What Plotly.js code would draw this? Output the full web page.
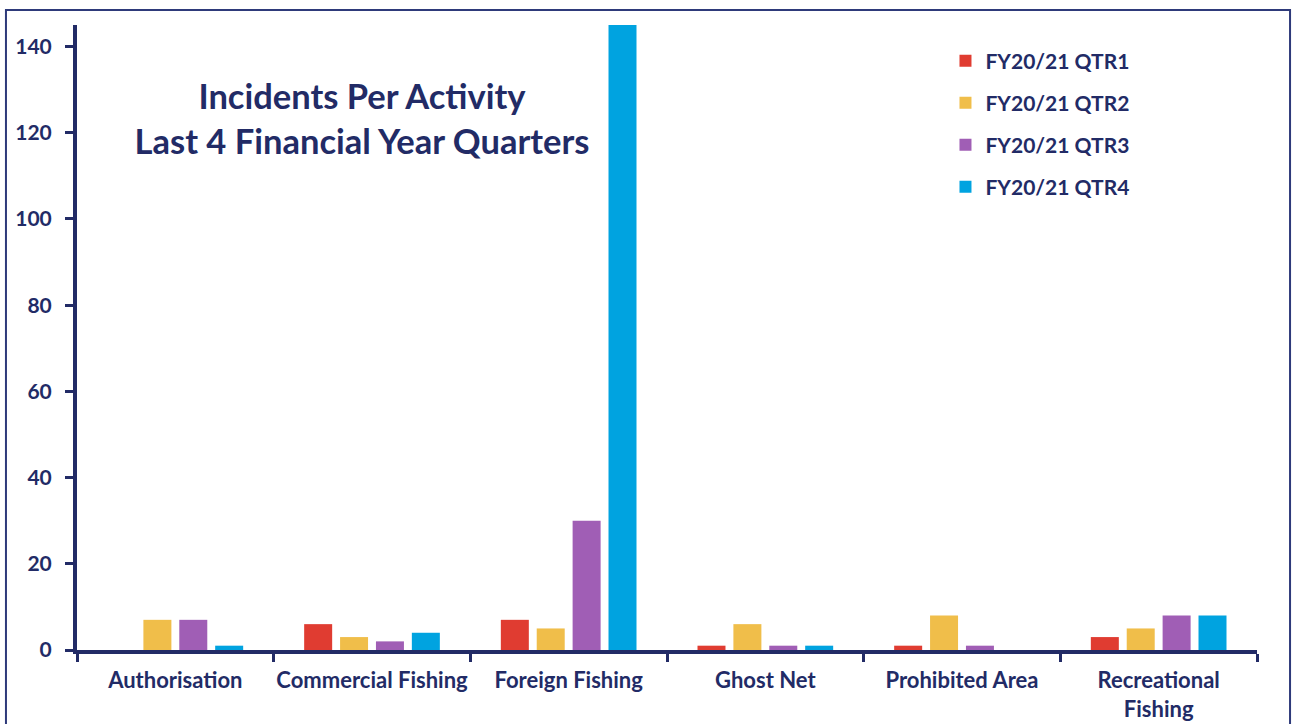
<!DOCTYPE html>
<html>
<head>
<meta charset="utf-8">
<script src="https://cdn.plot.ly/plotly-3.0.1.min.js"></script>
<style>
  html, body { margin: 0; padding: 0; background: #ffffff; }
  #chart { width: 1292px; height: 724px; }
</style>
</head>
<body>
<div id="chart"></div>
<script>
const categories = ["Authorisation", "Commercial Fishing", "Foreign Fishing", "Ghost Net", "Prohibited Area", "Recreational<br>Fishing"];
const seriesNames = ["FY20/21 QTR1", "FY20/21 QTR2", "FY20/21 QTR3", "FY20/21 QTR4"];
const qtr1 = [0, 6, 7, 1, 1, 3];
const qtr2 = [7, 3, 5, 6, 8, 5];
const qtr3 = [7, 2, 30, 1, 1, 8];
const qtr4 = [1, 4, 145, 1, 0, 8];
const seriesColors = ["#E03C31", "#F0BE4A", "#A05EB5", "#00A3E0"];
const yTicks = [0, 20, 40, 60, 80, 100, 120, 140];

const navy = "#222B66";
const fontFamily = "Lato, 'Open Sans', sans-serif";

const values = [qtr1, qtr2, qtr3, qtr4];
const traces = values.map((v, i) => ({
  type: "bar",
  name: seriesNames[i],
  x: categories,
  y: v,
  marker: { color: seriesColors[i], line: { width: 0 } },
  legendgroup: "g" + i,
  hoverinfo: "x+y+name"
}));

const layout = {
  width: 1292,
  height: 724,
  margin: { l: 77, r: 35, t: 25, b: 74 },
  paper_bgcolor: "#ffffff",
  plot_bgcolor: "#ffffff",
  font: { family: fontFamily, color: navy, size: 20 },
  barmode: "group",
  bargap: 0.27,
  bargroupgap: 0.22,
  title: {
    text: "<b>Incidents Per Activity<br>Last 4 Financial Year Quarters</b>",
    font: { family: fontFamily, size: 34.5, color: navy },
    xref: "paper", x: 0.2415, xanchor: "center",
    yref: "paper", y: 0.866, yanchor: "middle"
  },
  xaxis: {
    type: "category",
    showline: true, linecolor: navy, linewidth: 4,
    ticks: "outside", tickson: "boundaries", ticklen: 8, tickwidth: 3, tickcolor: navy,
    tickangle: 0,
    tickfont: { family: fontFamily, size: 22, color: navy, weight: "bold" },
    ticklabelstandoff: 8,
    showgrid: false, zeroline: false,
    fixedrange: true
  },
  yaxis: {
    range: [0, 145],
    tickvals: yTicks,
    ticktext: yTicks.map(String),
    showline: true, linecolor: navy, linewidth: 4,
    ticks: "outside", ticklen: 8, tickwidth: 3, tickcolor: navy,
    tickfont: { family: fontFamily, size: 21, color: navy, weight: "bold" },
    ticklabelstandoff: 9,
    showgrid: false, zeroline: false,
    fixedrange: true
  },
  legend: {
    x: 0.736, xanchor: "left",
    y: 0.975, yanchor: "top",
    font: { family: fontFamily, size: 21, color: navy, weight: "bold" },
    tracegroupgap: 11.7,
    bgcolor: "rgba(0,0,0,0)",
    itemclick: false, itemdoubleclick: false
  },
  shapes: [{
    type: "rect", xref: "paper", yref: "paper",
    x0: -0.0602, x1: 1.028, y0: -0.3, y1: 1.024,
    line: { color: "#2E3A7A", width: 2 },
    fillcolor: "rgba(0,0,0,0)",
    layer: "below"
  }],
  showlegend: true
};

Plotly.newPlot("chart", traces, layout, { displayModeBar: false, responsive: false, staticPlot: false });
</script>
</body>
</html>
